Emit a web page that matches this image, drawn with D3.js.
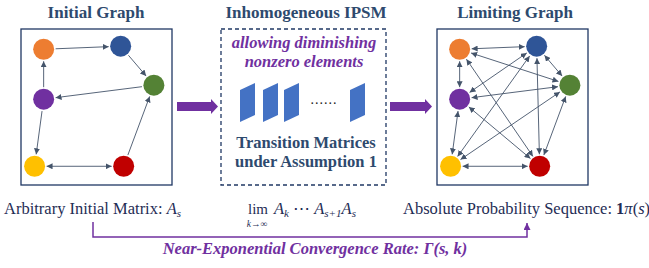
<!DOCTYPE html>
<html>
<head>
<meta charset="utf-8">
<script src="https://cdn.jsdelivr.net/npm/d3@7"></script>
<style>
  body { margin: 0; background: #fff; }
</style>
</head>
<body>
<div id="fig"></div>
<script>
// graph data
const nodeNames = ["orange", "blue", "green", "purple", "yellow", "red"];
const nodeColors = ["#ed7d31", "#2f5597", "#548235", "#7030a0", "#ffc000", "#c00000"];
// node layout, in box units (0..1)
const nodeX = [0.15, 0.66, 0.88, 0.15, 0.09, 0.68];
const nodeY = [0.13, 0.11, 0.36, 0.45, 0.88, 0.88];

// [from, to, both ways]
const initialEdges = [
  ["orange", "blue", false], ["blue", "green", false], ["green", "purple", false],
  ["purple", "orange", false], ["purple", "yellow", false], ["yellow", "red", true],
  ["red", "green", false]
];
const limitingEdges = [
  ["orange", "blue", true], ["orange", "purple", true], ["orange", "green", true], ["orange", "red", true],
  ["blue", "green", true], ["blue", "purple", true], ["blue", "yellow", true], ["blue", "red", true],
  ["green", "purple", true], ["green", "yellow", true], ["green", "red", true],
  ["purple", "yellow", true], ["purple", "red", true], ["yellow", "red", true]
];

const panelTitles = ["Initial Graph", "Inhomogeneous IPSM", "Limiting Graph"];
const middleNotes = ["allowing diminishing", "nonzero elements"];
const middleLabels = ["Transition Matrices", "under Assumption 1"];
const matrixSlots = [0, 1, 2, 5];   // the dots stand for slots 3 and 4
const bottomNote = "Near-Exponential Convergence Rate: ";

const W = 649, H = 268;
const navy = "#2e4a6e", purple = "#7030a0", edgeCol = "#44546a", ink = "#1f2d55";
const serif = "'Liberation Serif', 'Times New Roman', Times, serif";

const svg = d3.select("#fig").append("svg")
  .attr("width", W).attr("height", H)
  .attr("font-family", serif);

const defs = svg.append("defs");
defs.append("marker")
  .attr("id", "tip").attr("viewBox", "0 0 10 10")
  .attr("refX", 10).attr("refY", 5)
  .attr("markerWidth", 6).attr("markerHeight", 6)
  .attr("markerUnits", "userSpaceOnUse")
  .attr("orient", "auto-start-reverse")
  .append("path").attr("d", "M0,0 L10,5 L0,10 Z").attr("fill", edgeCol);
defs.append("marker")
  .attr("id", "tipP").attr("viewBox", "0 0 10 10")
  .attr("refX", 10).attr("refY", 5)
  .attr("markerWidth", 7).attr("markerHeight", 7)
  .attr("markerUnits", "userSpaceOnUse")
  .attr("orient", "auto")
  .append("path").attr("d", "M0,0 L10,5 L0,10 Z").attr("fill", purple);

// panels
const panels = [
  {x0: 21, x1: 172, title: 96},
  {x0: 221, x1: 386, title: 306},
  {x0: 437, x1: 588, title: 515}
];
const boxTop = 29, boxBottom = 185, r = 10.5;

svg.selectAll("text.title")
  .data(panelTitles).join("text")
  .attr("class", "title")
  .attr("x", (d, i) => panels[i].title).attr("y", 18)
  .attr("text-anchor", "middle")
  .style("font-family", serif)
  .style("font-weight", "bold").style("font-size", "17px")
  .style("fill", navy)
  .text(d => d);

function drawGraph(p, edges) {
  const g = svg.append("g");
  g.append("rect")
    .attr("x", p.x0).attr("y", boxTop)
    .attr("width", p.x1 - p.x0).attr("height", boxBottom - boxTop)
    .attr("fill", "none").attr("stroke", "#203864").attr("stroke-width", 1.3);
  const x = d3.scaleLinear().domain([0, 1]).range([p.x0, p.x1]);
  const y = d3.scaleLinear().domain([0, 1]).range([boxTop, boxBottom]);
  const pos = {};
  nodeNames.forEach((n, i) => pos[n] = [x(nodeX[i]), y(nodeY[i])]);

  g.selectAll("line")
    .data(edges).join("line")
    .each(function(e) {
      const a = pos[e[0]], b = pos[e[1]];
      const dx = b[0] - a[0], dy = b[1] - a[1], L = Math.hypot(dx, dy);
      const ux = dx / L, uy = dy / L, off = r + 1.5;
      d3.select(this)
        .attr("x1", a[0] + ux * off).attr("y1", a[1] + uy * off)
        .attr("x2", b[0] - ux * off).attr("y2", b[1] - uy * off);
    })
    .attr("stroke", edgeCol).attr("stroke-width", 0.9)
    .attr("marker-end", "url(#tip)")
    .attr("marker-start", e => e[2] ? "url(#tip)" : null);

  g.selectAll("circle")
    .data(nodeNames).join("circle")
    .attr("cx", n => pos[n][0]).attr("cy", n => pos[n][1])
    .attr("r", r)
    .attr("fill", (n, i) => nodeColors[i]);
}
drawGraph(panels[0], initialEdges);
drawGraph(panels[2], limitingEdges);

// middle dashed box
const mid = panels[1];
svg.append("rect")
  .attr("x", mid.x0).attr("y", boxTop)
  .attr("width", mid.x1 - mid.x0).attr("height", boxBottom - boxTop)
  .attr("fill", "none").attr("stroke", "#203864").attr("stroke-width", 1.3)
  .attr("stroke-dasharray", "4,3");

svg.selectAll("text.note")
  .data(middleNotes).join("text")
  .attr("class", "note")
  .attr("x", 304).attr("y", (d, i) => 48 + i * 19)
  .attr("text-anchor", "middle")
  .style("font-family", serif)
  .style("font-weight", "bold").style("font-style", "italic")
  .style("font-size", "16.5px").style("fill", purple)
  .text(d => d);

svg.selectAll("text.lab")
  .data(middleLabels).join("text")
  .attr("class", "lab")
  .attr("x", 306).attr("y", (d, i) => 148 + i * 19)
  .attr("text-anchor", "middle")
  .style("font-family", serif)
  .style("font-weight", "bold").style("font-size", "16.5px")
  .style("fill", navy)
  .text(d => d);

// transition matrices as slanted sheets
const slot = d3.scaleLinear().domain([0, 5]).range([240, 350]);
svg.selectAll("path.sheet")
  .data(matrixSlots).join("path")
  .attr("class", "sheet")
  .attr("d", s => {
    const x0 = slot(s) + (s === 1 ? 1 : 0), w = 15;
    return `M${x0},90 L${x0 + w},83 L${x0 + w},115 L${x0},122 Z`;
  })
  .attr("fill", "#4472c4");
svg.append("text")
  .attr("x", 324).attr("y", 104)
  .attr("text-anchor", "middle")
  .style("font-size", "14px").style("fill", "#222")
  .style("letter-spacing", "1px")
  .text("......");

// big purple arrows between panels
function bigArrow(xa, xb) {
  const yc = 106.5;
  svg.append("path")
    .attr("d", `M${xa},${yc - 4.5} L${xb - 7},${yc - 4.5} L${xb - 7},${yc - 7.5} L${xb},${yc} L${xb - 7},${yc + 7.5} L${xb - 7},${yc + 4.5} L${xa},${yc + 4.5} Z`)
    .attr("fill", purple);
}
bigArrow(177, 218);
bigArrow(390, 432);

// bottom line of text
const base = 214;
function line(x, anchor) {
  return svg.append("text").attr("x", x).attr("y", base)
    .attr("text-anchor", anchor || "start")
    .style("font-family", serif)
    .style("font-size", "16.5px").style("fill", ink);
}
const t1 = line(4);
t1.append("tspan").text("Arbitrary Initial Matrix: ");
t1.append("tspan").style("font-style", "italic").text("A");
t1.append("tspan").style("font-style", "italic").style("font-size", "11px").attr("dy", 3).text("s");

line(258, "middle").style("font-size", "15px").text("lim");
svg.append("text").attr("x", 257).attr("y", base + 13)
  .attr("text-anchor", "middle")
  .style("font-family", serif)
  .style("font-size", "9.5px").style("font-style", "italic").style("fill", ink).text("k→∞");

const t2 = line(274);
t2.append("tspan").style("font-style", "italic").text("A");
t2.append("tspan").style("font-style", "italic").style("font-size", "11px").attr("dy", 3).text("k");
t2.append("tspan").attr("dy", -3).text(" ⋯ ");
t2.append("tspan").style("font-style", "italic").text("A");
t2.append("tspan").style("font-style", "italic").style("font-size", "11px").attr("dy", 3).text("s+1");
t2.append("tspan").style("font-style", "italic").attr("dy", -3).text("A");
t2.append("tspan").style("font-style", "italic").style("font-size", "11px").attr("dy", 3).text("s");

const t3 = line(403);
t3.append("tspan").text("Absolute Probability Sequence: ");
t3.append("tspan").style("font-weight", "bold").text("1");
t3.append("tspan").style("font-style", "italic").text("π");
t3.append("tspan").text("(");
t3.append("tspan").style("font-style", "italic").text("s");
t3.append("tspan").text(")");

// convergence bracket
svg.append("path")
  .attr("d", "M93,222 L93,237 L527,237 L527,223")
  .attr("fill", "none").attr("stroke", purple).attr("stroke-width", 1.5)
  .attr("marker-end", "url(#tipP)");

const t4 = svg.append("text").attr("x", 315).attr("y", 254)
  .attr("text-anchor", "middle")
  .style("font-family", serif)
  .style("font-size", "16.5px").style("font-weight", "bold").style("font-style", "italic")
  .style("fill", purple);
t4.append("tspan").text(bottomNote);
t4.append("tspan").text("Γ(s, k)");
</script>
</body>
</html>
